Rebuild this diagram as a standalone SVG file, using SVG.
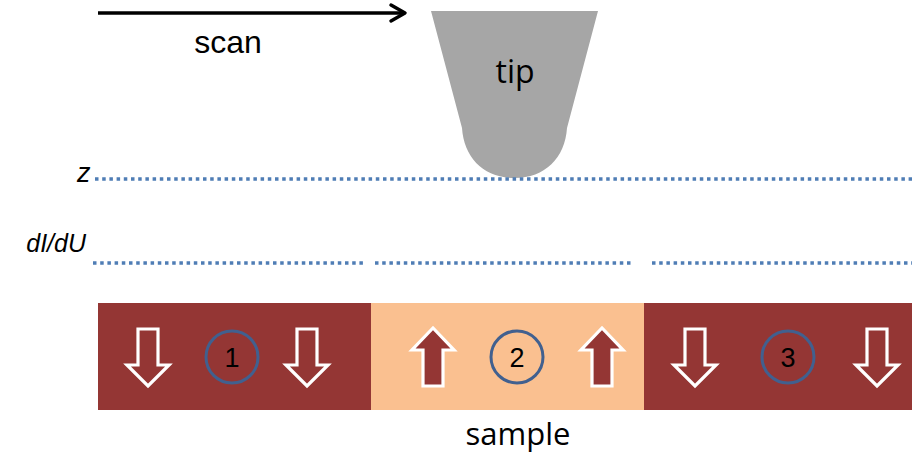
<svg xmlns="http://www.w3.org/2000/svg" width="912" height="457" viewBox="0 0 912 457">
  <style>
    .dot { fill: none; stroke: #4f7db5; stroke-width: 3.5; stroke-dasharray: 3.5 3.7; }
    .lbl { font-family: "Liberation Sans", Arial, sans-serif; fill: #000; }
    .ital { font-family: "Liberation Sans", Arial, sans-serif; font-style: italic; fill: #000; }
    .cal { font-family: "Open Sans", "Liberation Sans", sans-serif; fill: #000; }
    .dark { fill: #943634; }
    .light { fill: #fac090; }
    .arrw { fill: #943634; stroke: #ffffff; stroke-width: 3.2; stroke-linejoin: miter; }
    .circ { fill: none; stroke: #41608f; stroke-width: 3; }
    .num { font-family: "Liberation Sans", Arial, sans-serif; font-size: 27px; text-anchor: middle; fill: #000; }
  </style>
  <defs>
    <path id="down" d="M-10,329 H10 V365 H21 L0,386 L-21,365 H-10 Z"/>
    <path id="up" d="M-10,386 H10 V350 H21 L0,328 L-21,350 H-10 Z"/>
  </defs>
  <rect width="912" height="457" fill="#ffffff"/>

  <g id="scan">
    <line x1="98" y1="13" x2="404" y2="13" stroke="#000" stroke-width="3.5"/>
    <polyline points="391,5 405,13 391,21" fill="none" stroke="#000" stroke-width="3.5" stroke-linecap="round" stroke-linejoin="round"/>
    <text class="lbl" x="228" y="53" font-size="32" text-anchor="middle">scan</text>
  </g>

  <g id="tip">
    <path d="M431,11 L598,11 L567,128 C565,158 545,178 514.5,178 C484,178 464,158 462,128 Z" fill="#a6a6a6"/>
    <text class="cal" x="515" y="83" font-size="32" text-anchor="middle">tip</text>
  </g>

  <g id="z-line">
    <text class="ital" x="77" y="182" font-size="27">z</text>
    <line class="dot" x1="95" y1="179" x2="912" y2="179"/>
  </g>

  <g id="dIdU-line">
    <text class="ital" x="86" y="252" font-size="25" text-anchor="end">dI/dU</text>
    <line class="dot" x1="93" y1="263" x2="363" y2="263"/>
    <line class="dot" x1="375" y1="263" x2="634" y2="263"/>
    <line class="dot" x1="652" y1="263" x2="912" y2="263"/>
  </g>

  <g id="sample">
    <rect class="dark" x="98" y="303" width="273" height="107"/>
    <rect class="light" x="371" y="303" width="273" height="107"/>
    <rect class="dark" x="644" y="303" width="268" height="107"/>
    <text class="cal" x="518" y="445" font-size="31" text-anchor="middle">sample</text>
  </g>

  <g id="domain1">
    <use href="#down" class="arrw" transform="translate(148,0)"/>
    <use href="#down" class="arrw" transform="translate(307,0)"/>
    <circle class="circ" cx="232" cy="357" r="26"/>
    <text class="num" x="232" y="367">1</text>
  </g>

  <g id="domain2">
    <use href="#up" class="arrw" transform="translate(433,0)"/>
    <use href="#up" class="arrw" transform="translate(602,0)"/>
    <circle class="circ" cx="517" cy="357" r="26"/>
    <text class="num" x="517" y="367">2</text>
  </g>

  <g id="domain3">
    <use href="#down" class="arrw" transform="translate(695,0)"/>
    <use href="#down" class="arrw" transform="translate(877,0)"/>
    <circle class="circ" cx="788" cy="357" r="26"/>
    <text class="num" x="788" y="367">3</text>
  </g>
</svg>
